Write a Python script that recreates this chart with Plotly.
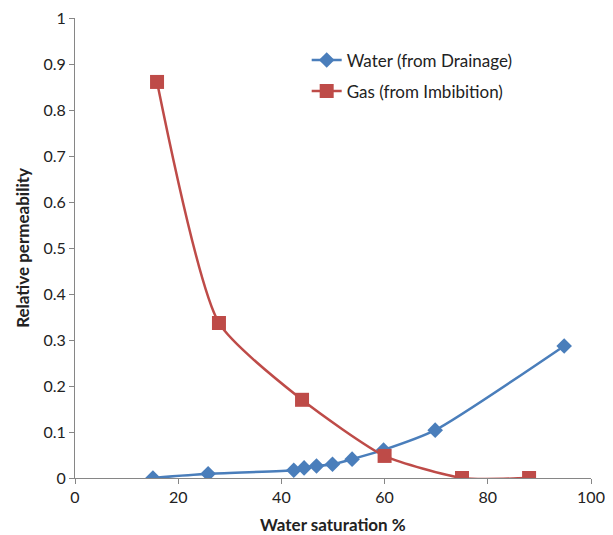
import plotly.graph_objects as go

water_sw = [15.1, 25.8, 42.4, 44.4, 46.8, 49.9, 53.7, 59.8, 69.8, 94.8]
water_kr = [0.0, 0.009, 0.017, 0.022, 0.026, 0.030, 0.041, 0.061, 0.104, 0.287]
gas_sw = [15.9, 27.9, 44.0, 60.0, 75.0, 88.0]
gas_kr = [0.861, 0.337, 0.170, 0.048, 0.0, 0.0]

blue = "#4A7EBB"
red = "#BE4B48"
font = "Lato, 'Open Sans', sans-serif"

fig = go.Figure()
fig.add_trace(go.Scatter(
    x=water_sw, y=water_kr, name="Water (from Drainage)", legendgroup="w",
    mode="lines+markers", line=dict(color=blue, width=2.5, shape="spline", smoothing=0.6),
    marker=dict(symbol="diamond", size=12, color=blue),
))
fig.add_trace(go.Scatter(
    x=gas_sw, y=gas_kr, name="Gas (from Imbibition)", legendgroup="g",
    mode="lines+markers", line=dict(color=red, width=2.5, shape="spline", smoothing=0.6),
    marker=dict(symbol="square", size=14, color=red),
))

axis_common = dict(
    showgrid=False, zeroline=False, showline=True, linecolor="#868686", linewidth=1,
    ticks="outside", ticklen=5, tickcolor="#868686", automargin=False,
    ticklabeloverflow="allow",
    tickfont=dict(family=font, size=16, color="#222"),
)
fig.update_layout(
    width=605, height=527,
    margin=dict(l=67, r=22, t=10, b=57),
    paper_bgcolor="white", plot_bgcolor="white",
    font=dict(family=font, size=16, color="#222"),
    xaxis=dict(range=[0, 100], tickvals=[0, 20, 40, 60, 80, 100],
               **axis_common),
    yaxis=dict(range=[0, 1], tickvals=[0, 0.1, 0.2, 0.3, 0.4, 0.5, 0.6, 0.7, 0.8, 0.9, 1],
               ticktext=["0", "0.1", "0.2", "0.3", "0.4", "0.5", "0.6", "0.7", "0.8", "0.9", "1"],
               **axis_common),
    legend=dict(x=0.449, y=0.947, xanchor="left", yanchor="top", bgcolor="rgba(0,0,0,0)",
                font=dict(size=17), tracegroupgap=6, traceorder="grouped"),
    annotations=[
        dict(text="<b>Water saturation %</b>", xref="paper", yref="paper", x=0.5, y=-0.102,
             xanchor="center", yanchor="middle", showarrow=False, font=dict(size=17)),
        dict(text="<b>Relative permeability</b>", xref="paper", yref="paper", x=-0.103, y=0.5,
             xanchor="center", yanchor="middle", showarrow=False, textangle=-90, font=dict(size=17)),
    ],
)
fig.write_html("out.html")
